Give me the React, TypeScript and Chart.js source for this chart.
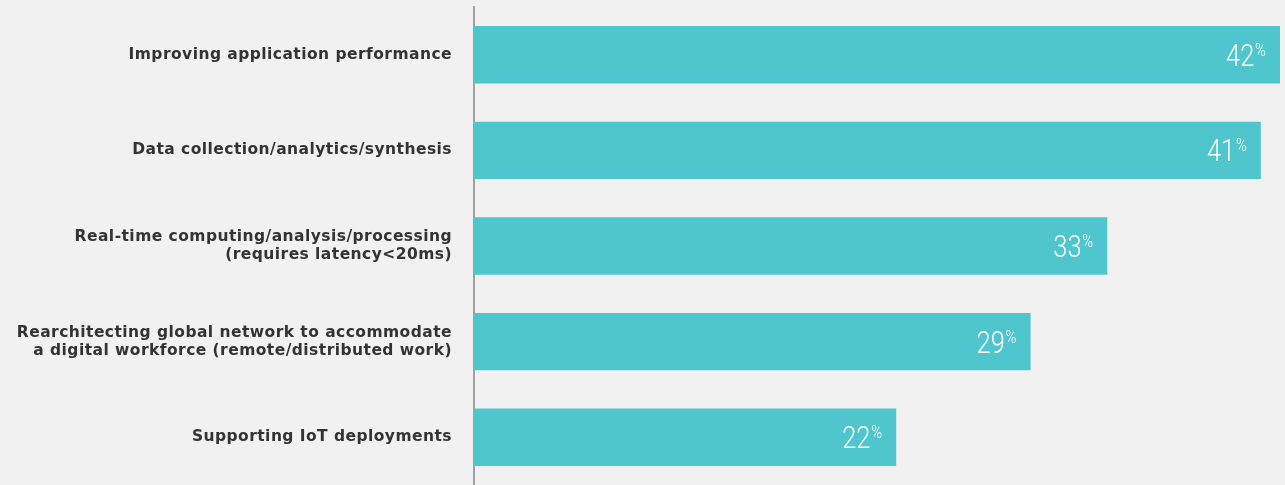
import React, { useEffect, useRef } from "react";
import { Chart, registerables } from "chart.js";

Chart.register(...registerables);

const categories: (string | string[])[] = [
  "Improving application performance",
  "Data collection/analytics/synthesis",
  ["Real-time computing/analysis/processing", "(requires latency<20ms)"],
  ["Rearchitecting global network to accommodate", "a digital workforce (remote/distributed work)"],
  "Supporting IoT deployments",
];
const values: number[] = [42, 41, 33, 29, 22];

const BAR = "#4fc5cd";
const BG = "#f1f1f1";

const spacing = {
  id: "spacing",
  beforeDraw(chart: any) {
    (chart.ctx as any).letterSpacing = "0.45px";
  },
};

const valueLabels = {
  id: "valueLabels",
  afterDatasetsDraw(chart: any) {
    const ctx = chart.ctx;
    const meta = chart.getDatasetMeta(0);
    ctx.save();
    (ctx as any).letterSpacing = "0px";
    ctx.fillStyle = "#ffffff";
    ctx.textBaseline = "alphabetic";
    ctx.textAlign = "right";
    meta.data.forEach((bar: any, i: number) => {
      const v = String(values[i]);
      const right = bar.x - 14;
      const sx = 0.82;
      ctx.save();
      ctx.translate(right, bar.y);
      ctx.scale(sx, 1);
      ctx.font = "300 18px Roboto";
      const pw = ctx.measureText("%").width;
      ctx.fillText("%", 0, 1);
      ctx.font = "300 31px Roboto";
      ctx.fillText(v, -pw - 1, 11);
      ctx.restore();
    });
    ctx.restore();
  },
};

export default function App() {
  const ref = useRef<HTMLCanvasElement | null>(null);
  useEffect(() => {
    document.body.style.margin = "0";
    document.body.style.background = BG;
    const chart = new Chart(ref.current as HTMLCanvasElement, {
      type: "bar",
      data: {
        labels: categories as any,
        datasets: [
          {
            data: values,
            backgroundColor: BAR,
            borderWidth: 0,
            barPercentage: 0.6,
            categoryPercentage: 1,
          },
        ],
      },
      options: {
        indexAxis: "y",
        animation: false,
        responsive: true,
        maintainAspectRatio: false,
        layout: { padding: { top: 7, right: 5, left: 0, bottom: 0 } },
        plugins: { legend: { display: false }, tooltip: { enabled: false } },
        scales: {
          x: { display: false, min: 0, max: 42 },
          y: {
            grid: { display: false },
            border: { display: true, color: "#a0a0a0", width: 2 },
            afterFit: (s: any) => {
              s.width = 474;
              s.paddingTop = 0;
              s.paddingBottom = 0;
            },
            ticks: {
              color: "#333333",
              padding: 14,
              font: { family: "DejaVu Sans", weight: "bold", size: 15.5, lineHeight: 1.16 },
            },
          },
        },
      },
      plugins: [spacing, valueLabels],
    });
    return () => chart.destroy();
  }, []);
  return (
    <div style={{ width: 1285, height: 485, background: BG, position: "relative" }}>
      <canvas ref={ref} />
    </div>
  );
}
